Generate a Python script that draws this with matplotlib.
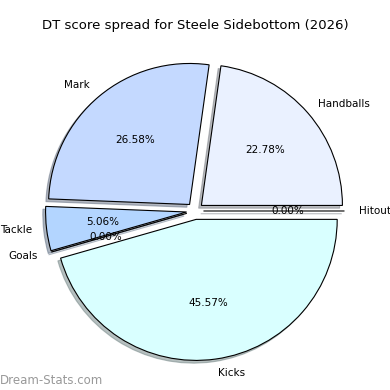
import matplotlib
matplotlib.use("Agg")
import matplotlib.pyplot as plt

labels = ["Handballs", "Mark", "Tackle", "Goals", "Kicks", "Hitout"]
values = [18, 21, 4, 0, 36, 0]
colors = ["#eaf1ff", "#c4d9ff", "#b3d5ff", "#b3d5ff", "#d9ffff", "#eaf1ff"]
explode = [0.06] * len(values)

fig = plt.figure(figsize=(3.9, 3.9), dpi=100)
ax = fig.add_axes([0.048, 0.007, 0.904, 0.904])
ax.pie(values, labels=labels, colors=colors, explode=explode,
       autopct="%1.2f%%", startangle=0,
       shadow={"ox": -0.014, "oy": -0.014, "shade": 0.5},
       wedgeprops={"edgecolor": "black", "linewidth": 0.8},
       textprops={"fontsize": 7.5})
ax.set_aspect("equal")
fig.suptitle("DT score spread for Steele Sidebottom (2026)", fontsize=9.5, y=0.95)
fig.text(0.0, 0.008, "Dream-Stats.com", fontsize=8.5, color="#999999", ha="left", va="bottom")

fig.savefig("out.png", dpi=100)
